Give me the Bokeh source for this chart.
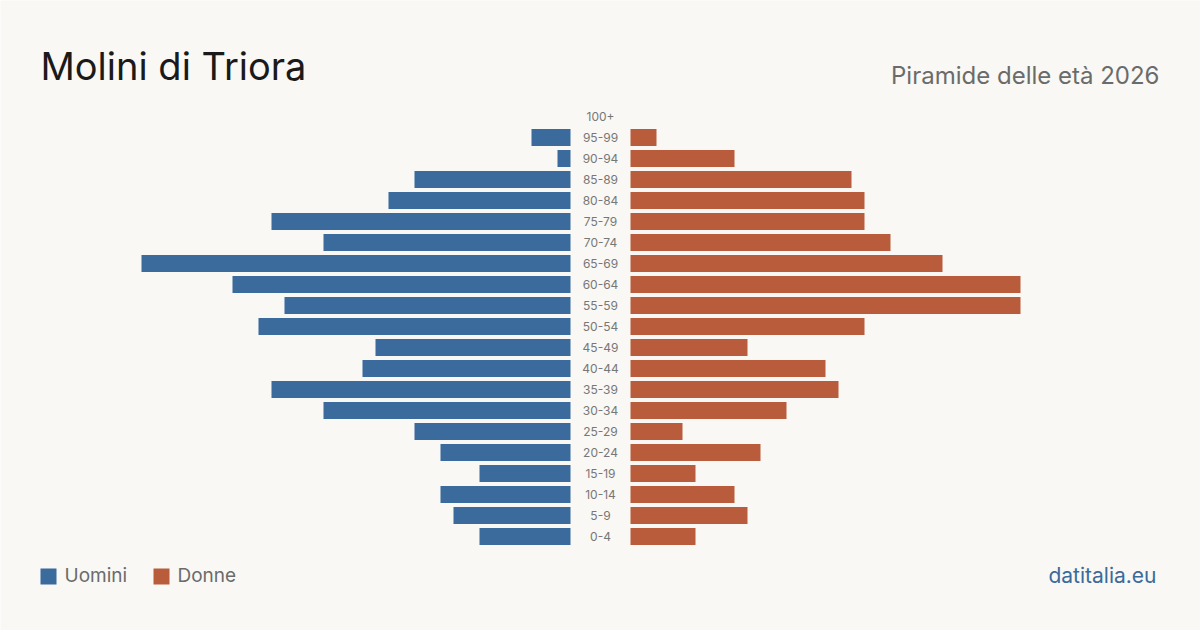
from bokeh.plotting import figure
from bokeh.models import Range1d, Label, ColumnDataSource
from bokeh.embed import file_html
from bokeh.resources import INLINE

# Age classes, bottom to top
ages = ["0-4", "5-9", "10-14", "15-19", "20-24", "25-29", "30-34", "35-39",
        "40-44", "45-49", "50-54", "55-59", "60-64", "65-69", "70-74",
        "75-79", "80-84", "85-89", "90-94", "95-99", "100+"]
uomini = [7, 9, 10, 7, 10, 12, 19, 23, 16, 15, 24, 22, 26, 33, 19, 23, 14, 12, 1, 3, 0]
donne = [5, 9, 8, 5, 10, 4, 12, 16, 15, 9, 18, 30, 30, 24, 20, 18, 18, 17, 8, 2, 0]

BLUE = "#3a6b9c"
RUST = "#b95c3c"
BG = "#f9f8f4"
FONT = "Inter"

W, H = 1200, 630
PX = 13.0      # pixels per person on the x axis
ROW = 21.0     # pixels per age class
CX = 600.0     # centre line (px)
Y0 = 536.0     # pixel row of the first class
GAP = 30.0 / PX  # half width of the label column, in data units


def dx(px):
    return (px - CX) / PX


def dy(py):
    return (Y0 - py) / ROW


def text_y(baseline_px, size):
    # alphabetic labels sit slightly below their anchor in svg output
    return dy(baseline_px - 0.4 * size)


p = figure(width=W, height=H, output_backend="svg", toolbar_location=None,
           x_range=Range1d(dx(0), dx(W)), y_range=Range1d(dy(H), dy(0)),
           min_border=0, background_fill_color=BG, border_fill_color=BG,
           outline_line_color=None)
p.axis.visible = False
p.grid.visible = False

idx = list(range(len(ages)))
src = ColumnDataSource(dict(
    y=idx, age=ages,
    m_left=[-GAP - v for v in uomini], m_right=[-GAP] * len(ages),
    f_left=[GAP] * len(ages), f_right=[GAP + v for v in donne],
    u=uomini, d=donne,
))

bh = 17.0 / ROW
p.hbar(y="y", left="m_left", right="m_right", height=bh, source=src,
       fill_color=BLUE, line_color=None)
p.hbar(y="y", left="f_left", right="f_right", height=bh, source=src,
       fill_color=RUST, line_color=None)

p.text(x=0, y="y", text="age", source=src, text_align="center",
       text_baseline="middle", text_font_size="12px", text_color="#777777",
       text_font={"value": FONT})

# Titles
p.add_layout(Label(x=dx(40), y=text_y(81, 38), text="Molini di Triora",
                   text_font=FONT, text_font_size="38px", text_color="#1a1a1a",
                   text_baseline="alphabetic", text_align="left"))
p.add_layout(Label(x=dx(1159), y=text_y(85, 24), text="Piramide delle età 2026",
                   text_font=FONT, text_font_size="24px", text_color="#6b6b6b",
                   text_baseline="alphabetic", text_align="right"))

# Legend
p.quad(left=[dx(40), dx(153)], right=[dx(56), dx(169)],
       top=[dy(568), dy(568)], bottom=[dy(584), dy(584)],
       fill_color=[BLUE, RUST], line_color=None)
p.add_layout(Label(x=dx(64), y=text_y(583, 19), text="Uomini", text_font=FONT,
                   text_font_size="19px", text_color="#6b6b6b",
                   text_baseline="alphabetic"))
p.add_layout(Label(x=dx(177), y=text_y(583, 19), text="Donne", text_font=FONT,
                   text_font_size="19px", text_color="#6b6b6b",
                   text_baseline="alphabetic"))
p.add_layout(Label(x=dx(1156), y=text_y(583, 21), text="datitalia.eu", text_font=FONT,
                   text_font_size="21px", text_color="#3a6b9c",
                   text_baseline="alphabetic", text_align="right"))

open("out.html", "w").write(file_html(p, INLINE))
